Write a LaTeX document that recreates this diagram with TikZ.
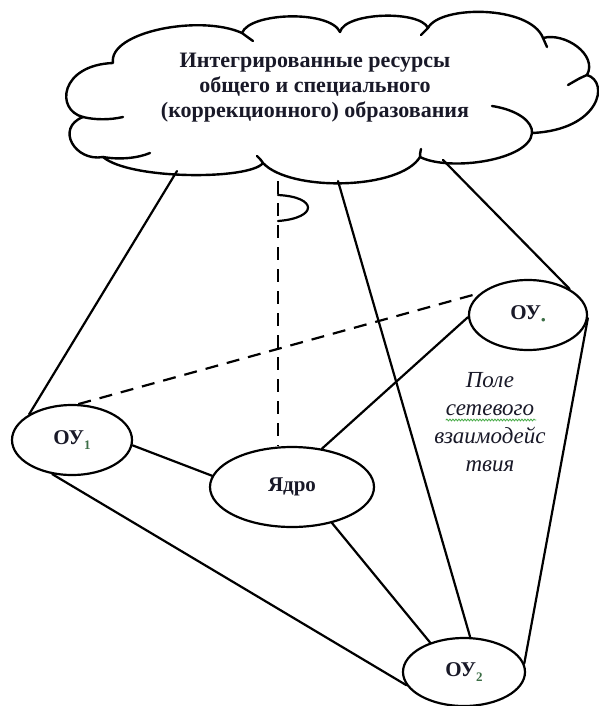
\documentclass[tikz,border=0pt]{standalone}
\usepackage{fontspec}
\setmainfont{Liberation Serif}
\usetikzlibrary{shapes.geometric,decorations.pathmorphing}
\definecolor{subc}{RGB}{60,110,70}
\definecolor{spell}{RGB}{70,170,70}
\definecolor{txt}{RGB}{25,25,40}
\newcommand\ousub[1]{\raisebox{-0.45ex}{\fontsize{13}{13}\selectfont\color{subc}#1}}
\begin{document}
\begin{tikzpicture}[x=1pt,y=-1pt,
  line width=2.2pt, line cap=round, line join=round,
  ou/.style={ellipse, draw, line width=2.2pt, inner sep=0pt, fill=white,
    font=\bfseries\fontsize{21}{21}\selectfont, text=txt},
  dashline/.style={line width=2.2pt, line cap=butt, dash pattern=on 13pt off 9pt},
  cloudline/.style={line width=2.4pt}
]
\useasboundingbox (0,0) rectangle (599,706);
\fill[white] (0,0) rectangle (599,706);

% cloud outline
\draw[cloudline]
  (113,63) .. controls (108,32) and (200,14) .. (242,33)
  .. controls (250,12) and (330,10) .. (340,32)
  .. controls (345,12) and (420,10) .. (428,28)
  .. controls (440,5) and (530,5) .. (543,38)
  .. controls (565,32) and (598,55) .. (587,75)
  .. controls (610,82) and (600,130) .. (532,133)
  .. controls (530,160) and (450,172) .. (420,157)
  .. controls (400,190) and (290,192) .. (263,163)
  .. controls (250,180) and (130,180) .. (103,157)
  .. controls (75,162) and (55,128) .. (83,117)
  .. controls (55,110) and (60,65) .. (113,63);
% inner stubs of the cloud
\draw[cloudline] (242,33) .. controls (246,36) .. (253,41);
\draw[cloudline] (428,28) .. controls (425,31) .. (421,35);
\draw[cloudline] (543,38) .. controls (545,42) .. (547,47);
\draw[cloudline] (587,75) .. controls (580,78) .. (568,85);
\draw[cloudline] (492,106) .. controls (518,110) and (533,122) .. (532,133);
\draw[cloudline] (420,157) .. controls (420,154) .. (421,149);
\draw[cloudline] (263,163) .. controls (261,160) .. (257,156);
\draw[cloudline] (103,157) .. controls (120,160) and (138,158) .. (150,153);
\draw[cloudline] (83,117) .. controls (95,120) and (110,120) .. (123,117);

\node[align=center, font=\bfseries\fontsize{22}{25}\selectfont, text=txt] (cloud) at (315,88)
  {Интегрированные ресурсы\\ общего и специального\\ (коррекционного) образования};

% points on the cloud
\coordinate (c1) at (177,171);
\coordinate (c2) at (338,181);
\coordinate (c3) at (443,160);
\coordinate (axtop) at (278,181);

% nodes
\node[ou, minimum width=120pt, minimum height=70pt] (ou1) at (72,440) {ОУ\ousub{1}};
\node[ou, minimum width=164pt, minimum height=80pt] (core) at (292,487) {Ядро};
\node[ou, minimum width=118pt, minimum height=70pt] (ous) at (528,315) {ОУ\ousub{\textbullet}};
\node[ou, minimum width=122pt, minimum height=68pt] (ou2) at (464,672) {ОУ\ousub{2}};

\node[align=center, font=\itshape\fontsize{23}{28}\selectfont, text=txt] (field) at (490,422)
  {Поле\\ сетевого\\ взаимодейс\\ твия};
\draw[spell, line width=0.8pt, decorate, decoration={snake, amplitude=1pt, segment length=3pt}]
  (446,420) -- (536,420);

% connectors
\draw (c1) -- (ou1.149);
\draw (c2) -- (ou2.80);
\draw (c3) -- (ous.32);
\draw (ous.-3) -- (ou2.8);
\draw (ous.182) -- (core.52);
\draw (ou1.-5) -- (core.172);
\draw (ou1.-120) -- (ou2.193);
\draw (core.-42) -- (ou2.139);
\draw[dashline] (ou1.80) -- (ous.155);
\draw[dashline] (axtop) -- (axtop |- core.north);
\draw (278,195) .. controls (318,197) and (318,218) .. (278,221);
\end{tikzpicture}
\end{document}
